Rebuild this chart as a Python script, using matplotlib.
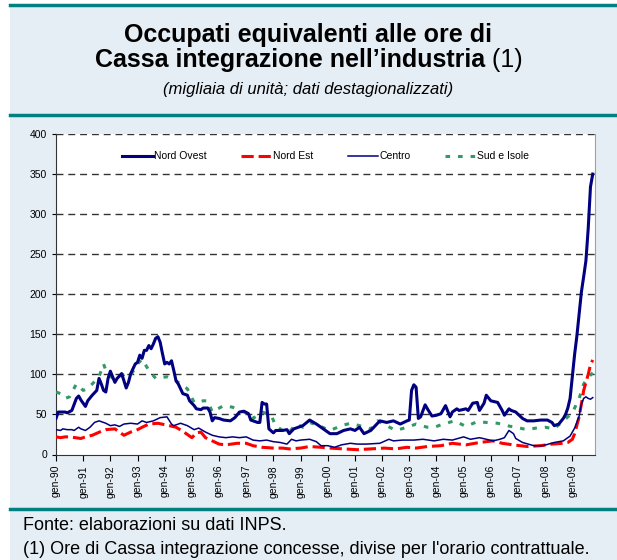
import matplotlib
matplotlib.use("Agg")
import matplotlib.pyplot as plt
from matplotlib.lines import Line2D
from matplotlib.patches import Rectangle

plt.rcParams['font.family'] = ['Liberation Sans', 'DejaVu Sans']

# months counted from gen-90 (0) to ott-09 (237)
no_m = [0, 1, 4, 5, 7, 9, 10, 11, 13, 14, 16, 18, 19, 20, 21, 22, 23, 24, 25, 26,
        27, 29, 30, 31, 32, 33, 35, 36, 37, 38, 39, 40, 41, 42, 43, 44, 45, 46, 47, 48,
        49, 50, 51, 52, 53, 54, 55, 56, 58, 59, 61, 62, 64, 65, 67, 68, 69, 70, 72, 74,
        77, 79, 81, 83, 85, 86, 89, 90, 91, 92, 93, 94, 96, 97, 100, 102, 103, 105, 107, 109,
        112, 115, 118, 121, 124, 127, 130, 132, 134, 136, 139, 141, 143, 146, 149, 152, 155, 156, 157, 158,
        159, 160, 161, 163, 164, 166, 168, 170, 172, 174, 175, 177, 178, 181, 182, 184, 186, 187, 189, 190,
        192, 195, 197, 198, 200, 201, 203, 206, 208, 211, 214, 217, 219, 220, 222, 224, 225, 226, 227, 228,
        229, 230, 231, 232, 233, 234, 235, 236, 237]
nord_ovest = [45, 53, 53, 52, 55, 70, 73, 68, 60, 67, 74, 80, 95, 88, 80, 78, 95, 104, 97, 90,
              95, 101, 92, 83, 90, 101, 113, 115, 124, 120, 130, 130, 136, 132, 138, 145, 147, 140, 126, 113,
              115, 113, 117, 105, 92, 88, 82, 76, 74, 67, 61, 57, 56, 58, 58, 53, 42, 46, 45, 43,
              42, 46, 53, 54, 51, 43, 40, 40, 65, 63, 63, 32, 27, 30, 30, 31, 26, 32, 34, 36,
              43, 38, 32, 26, 26, 30, 32, 30, 34, 26, 30, 36, 42, 40, 42, 38, 42, 43, 80, 87,
              84, 45, 47, 62, 57, 48, 49, 51, 61, 47, 53, 57, 55, 57, 55, 64, 65, 55, 64, 74,
              67, 65, 55, 49, 57, 55, 53, 45, 42, 42, 43, 43, 40, 36, 38, 45, 50, 58, 70, 97,
              125, 148, 175, 203, 222, 242, 282, 334, 350]

ne_m = [0, 2, 4, 6, 11, 13, 16, 20, 22, 26, 30, 33, 36, 38, 41, 45, 50, 53, 56, 60,
        62, 64, 66, 69, 72, 75, 80, 84, 87, 91, 96, 100, 103, 108, 112, 117, 121, 127, 133, 139,
        145, 150, 155, 159, 164, 170, 175, 181, 187, 193, 197, 202, 208, 214, 219, 224, 226, 228, 229, 231,
        232, 233, 234, 235, 236, 237]
nord_est = [22, 21, 22, 22, 20, 22, 24, 29, 31, 32, 24, 28, 31, 34, 38, 39, 36, 34, 29, 21,
            27, 28, 21, 17, 13, 12, 14, 14, 11, 9, 8, 8, 7, 8, 10, 9, 8, 7, 6, 7,
            8, 7, 9, 8, 10, 11, 14, 12, 15, 17, 14, 12, 10, 11, 13, 14, 15, 19, 26, 47,
            63, 80, 90, 100, 112, 118]

ce_m = [0, 2, 3, 5, 7, 8, 10, 11, 13, 15, 17, 19, 22, 24, 26, 28, 30, 33, 36, 38,
        40, 43, 46, 49, 51, 52, 55, 58, 61, 63, 66, 69, 72, 75, 78, 81, 84, 87, 90, 93,
        96, 99, 102, 104, 106, 108, 112, 115, 117, 120, 123, 126, 130, 133, 137, 143, 147, 149, 153, 158,
        162, 167, 171, 175, 180, 183, 187, 190, 193, 196, 198, 200, 202, 203, 206, 211, 215, 220, 224, 227,
        229, 231, 232, 233, 234, 235, 236, 237]
centro = [31, 30, 32, 31, 31, 30, 34, 32, 30, 34, 40, 42, 39, 36, 37, 35, 38, 39, 38, 42,
          40, 42, 46, 47, 38, 36, 39, 36, 31, 33, 28, 24, 22, 21, 22, 21, 22, 18, 17, 18,
          16, 15, 13, 19, 17, 18, 19, 16, 11, 11, 9, 12, 14, 13, 13, 14, 19, 17, 18, 18,
          19, 17, 19, 18, 22, 19, 21, 19, 17, 19, 21, 30, 26, 20, 15, 11, 11, 15, 17, 23,
          33, 48, 63, 70, 72, 70, 69, 71]

si_m = [0, 2, 4, 6, 9, 12, 14, 19, 21, 22, 25, 28, 31, 33, 36, 38, 41, 44, 49, 53,
        58, 61, 65, 67, 69, 74, 78, 81, 85, 87, 91, 95, 97, 100, 103, 106, 109, 112, 116, 121,
        126, 130, 134, 139, 142, 146, 150, 155, 159, 164, 167, 171, 176, 181, 186, 190, 195, 199, 203, 208,
        212, 216, 220, 224, 228, 231, 233, 235, 237]
sud_isole = [78, 76, 70, 72, 88, 80, 82, 97, 113, 105, 95, 97, 101, 99, 113, 119, 105, 95, 97, 92,
             82, 65, 67, 67, 53, 61, 59, 55, 51, 45, 53, 49, 36, 30, 28, 38, 34, 40, 36, 30,
             36, 39, 36, 32, 42, 36, 30, 34, 38, 34, 34, 38, 42, 35, 41, 40, 39, 36, 34, 31,
             33, 34, 32, 42, 52, 70, 88, 96, 102]

tick_pos = list(range(0, 229, 12))
tick_lab = ['gen-%02d' % (y % 100) for y in range(1990, 2010)]

W, H = 617, 560
fig = plt.figure(figsize=(6.17, 5.60), dpi=100)
fig.patch.set_facecolor('white')
bg = Rectangle((10 / W, 0), 1 - 10 / W, 1 - 4 / H, transform=fig.transFigure,
               facecolor='#e6eef5', edgecolor='none', zorder=-10)
fig.add_artist(bg)
teal = '#008080'
for yy in [5, 115, 509]:
    fig.add_artist(Line2D([10 / W, 1], [1 - yy / H, 1 - yy / H],
                          transform=fig.transFigure, color=teal, lw=2.5))

fig.text(0.5, 1 - 42 / H, 'Occupati equivalenti alle ore di', ha='center', va='baseline',
         fontsize=18, fontweight='bold')

# second title line: bold text followed by regular "(1)", centred together
tb = fig.text(0, 1 - 67 / H, 'Cassa integrazione nell’industria', ha='left', va='baseline',
              fontsize=18, fontweight='bold')
tn = fig.text(0, 1 - 67 / H, ' (1)', ha='left', va='baseline', fontsize=18)
fig.canvas.draw()
r = fig.canvas.get_renderer()
wb = tb.get_window_extent(r).width
wn = tn.get_window_extent(r).width
x0 = (W - wb - wn) / 2
tb.set_x(x0 / W)
tn.set_x((x0 + wb) / W)

fig.text(0.5, 1 - 94 / H, '(migliaia di unità; dati destagionalizzati)', ha='center', va='baseline',
         fontsize=12, style='italic')

fig.text(23 / W, 1 - 525 / H, 'Fonte: elaborazioni su dati INPS.', ha='left', va='center',
         fontsize=13)
fig.text(23 / W, 1 - 549 / H,
         "(1) Ore di Cassa integrazione concesse, divise per l'orario contrattuale.",
         ha='left', va='center', fontsize=13)

ax = fig.add_axes([56 / W, 1 - 454.5 / H, (595 - 56) / W, (454.5 - 134) / H])
ax.set_facecolor('white')

ax.plot(no_m, nord_ovest, color='#000080', lw=2.2, label='Nord Ovest', zorder=5)
ax.plot(ne_m, nord_est, color='#ff0000', lw=2.2, ls=(0, (4, 1.6)), label='Nord Est', zorder=4)
ax.plot(ce_m, centro, color='#000080', lw=1.1, label='Centro', zorder=4)
ax.plot(si_m, sud_isole, color='#339966', lw=2.2, ls=(0, (1.5, 2.6)), label='Sud e Isole', zorder=3)

ax.set_xlim(0, 238)
ax.set_ylim(0, 400)
ax.set_yticks(range(0, 401, 50))
for v in range(50, 401, 50):
    ax.axhline(v, color='#333333', lw=1, ls=(0, (5, 3.5)), zorder=1)

ax.set_xticks(tick_pos)
ax.set_xticklabels(tick_lab, rotation=90, fontsize=7.5)
ax.tick_params(axis='y', labelsize=7.5, length=3, width=0.8)
ax.tick_params(axis='x', length=4, width=0.8)
ax.spines['top'].set_visible(False)
ax.spines['right'].set_color('#a0a0a0')
ax.spines['left'].set_color('#333333')
ax.spines['bottom'].set_color('#333333')

ax.legend(loc='upper center', bbox_to_anchor=(0.5, 0.975), ncol=4, frameon=False,
          fontsize=7.5, handlelength=2.9, columnspacing=3.3, handletextpad=0.15)

fig.savefig('out.png', dpi=100, facecolor=fig.get_facecolor())
